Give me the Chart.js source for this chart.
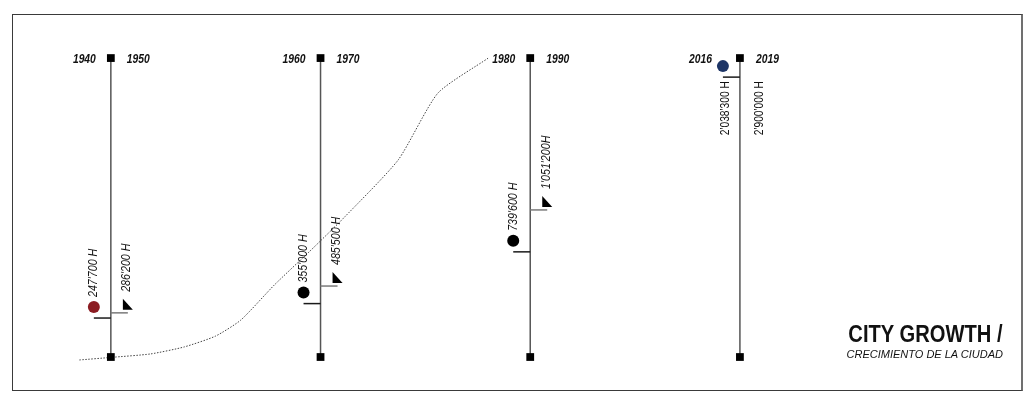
<!DOCTYPE html>
<html>
<head>
<meta charset="utf-8">
<title>City growth</title>
<script src="https://cdn.jsdelivr.net/npm/chart.js@4.4.1/dist/chart.umd.min.js"></script>
<style>
  body { margin: 0; background: #fff; }
  #wrap { position: relative; width: 1032px; height: 407px; }
  #wrap canvas { position: absolute; left: 0; top: 0; }
  .frame {
    position: absolute; left: 12px; top: 14px; width: 1011px; height: 377px;
    box-sizing: border-box; border: 1.5px solid #3a3a3a; border-right: 2px solid #707070;
  }
  .title {
    position: absolute; right: 29px; top: 322px; text-align: right;
    font-family: "Liberation Sans", Arial, sans-serif; color: #111;
  }
  .title .main {
    font-weight: bold; font-size: 24px; line-height: 24px; white-space: nowrap;
    transform: scaleX(0.84); transform-origin: right center;
  }
  .title .sub { font-style: italic; font-size: 11px; line-height: 13px; margin-top: 2px; white-space: nowrap; }
</style>
</head>
<body>
<div id="wrap">
  <div class="frame"></div>
  <canvas id="growthChart" width="1032" height="407"></canvas>
  <div class="title">
    <div class="main">CITY GROWTH /</div>
    <div class="sub">CRECIMIENTO DE LA CIUDAD</div>
  </div>
</div>
<script>
// one vertical timeline per pair of census years
const groupX = [0, 1, 2, 3];
const yearsBefore = ["1940", "1960", "1980", "2016"];
const yearsAfter = ["1950", "1970", "1990", "2019"];
const popBefore = [247700, 355000, 739600, 2038300];
const popAfter = [286200, 485500, 1051200, 2900000];
const labelsBefore = ["247'700 H", "355'000 H", "739'600 H", "2'038'300 H"];
const labelsAfter = ["286'200 H", "485'500 H", "1'051'200H", "2'900'000 H"];
const dotColors = ["#8b1c22", "#000000", "#000000", "#1d3566"];
const axisRange = [-42000, 2180000];

// dotted growth curve
const trendX = [-0.15, 0, 0.19, 0.35, 0.5, 0.62, 0.78, 0.95, 1.11, 1.37, 1.56, 1.8];
const trendY = [-64000, -45000, -19000, 33000, 114000, 233000, 494000, 746000, 991000, 1422000, 1920000, 2180000];

const FONT = '"Liberation Sans", Arial, sans-serif';
const SQUISH = 0.82; // narrow lettering

const axisDatasets = groupX.map((gx) => ({
  data: [{ x: gx, y: axisRange[0] }, { x: gx, y: axisRange[1] }],
  borderColor: "#555",
  borderWidth: 1.5,
  pointStyle: "rect",
  pointRadius: 5.5,
  pointBackgroundColor: "#000",
  pointBorderWidth: 0,
}));

const trendDataset = {
  data: trendX.map((x, i) => ({ x: x, y: trendY[i] })),
  borderColor: "#444",
  borderWidth: 1,
  borderDash: [1.5, 1.5],
  pointRadius: 0,
  tension: 0.2,
};

function drawNarrow(ctx, text, x, y, align, vertical, squish) {
  ctx.save();
  ctx.translate(x, y);
  if (vertical) ctx.rotate(-Math.PI / 2);
  ctx.scale(squish, 1);
  ctx.textAlign = align;
  ctx.textBaseline = "middle";
  ctx.fillText(text, 0, 0);
  ctx.restore();
}

// ticks, dots, flags and labels placed from the scales
const markerPlugin = {
  id: "markers",
  afterDatasetsDraw(chart) {
    const ctx = chart.ctx;
    const xs = chart.scales.x;
    const ys = chart.scales.y;
    const topPx = ys.getPixelForValue(axisRange[1]);

    groupX.forEach((gx, i) => {
      const lx = xs.getPixelForValue(gx);
      const yb = ys.getPixelForValue(popBefore[i]);
      const afterOnAxis = popAfter[i] <= axisRange[1];
      const ya = afterOnAxis ? ys.getPixelForValue(popAfter[i]) : yb;
      const hanging = yb - 22 - 50 < topPx;

      // year labels on both sides of the top square
      const dotY = yb - 11;
      const crowded = dotY - topPx < 16;
      ctx.fillStyle = "#111";
      ctx.font = "italic bold 12px " + FONT;
      drawNarrow(ctx, yearsBefore[i], lx - (crowded ? 28 : 15), topPx + 2, "right", false, 0.86);
      drawNarrow(ctx, yearsAfter[i], lx + 16, topPx + 2, "left", false, 0.86);

      // left tick + dot
      ctx.strokeStyle = "#1a1a1a";
      ctx.lineWidth = 1.5;
      ctx.beginPath();
      ctx.moveTo(lx - 17, yb);
      ctx.lineTo(lx, yb);
      ctx.stroke();
      ctx.fillStyle = dotColors[i];
      ctx.beginPath();
      ctx.arc(lx - 17, dotY, 6, 0, Math.PI * 2);
      ctx.fill();

      // right tick + flag
      if (afterOnAxis) {
        ctx.strokeStyle = "#7a7a7a";
        ctx.beginPath();
        ctx.moveTo(lx, ya);
        ctx.lineTo(lx + 17, ya);
        ctx.stroke();
        ctx.fillStyle = "#000";
        ctx.beginPath();
        ctx.moveTo(lx + 12, ya - 14);
        ctx.lineTo(lx + 12, ya - 3);
        ctx.lineTo(lx + 22, ya - 3);
        ctx.closePath();
        ctx.fill();
      }

      // value labels
      ctx.fillStyle = "#111";
      if (hanging) {
        ctx.font = "12.5px " + FONT;
        drawNarrow(ctx, labelsBefore[i], lx - 14, yb + 4, "right", true, SQUISH);
        drawNarrow(ctx, labelsAfter[i], lx + 20, yb + 4, "right", true, SQUISH);
      } else {
        ctx.font = "italic 13px " + FONT;
        drawNarrow(ctx, labelsBefore[i], lx - 17, yb - 21, "left", true, SQUISH);
        drawNarrow(ctx, labelsAfter[i], lx + 16, ya - 21, "left", true, SQUISH);
      }
    });
  },
};

new Chart(document.getElementById("growthChart"), {
  type: "line",
  data: { datasets: axisDatasets.concat([trendDataset]) },
  options: {
    responsive: false,
    animation: false,
    layout: { padding: { top: 15, bottom: 22, left: 6, right: 9 } },
    scales: {
      x: { type: "linear", min: -0.5, max: 4.35, display: false },
      y: { type: "linear", min: -250000, max: 2500000, display: false },
    },
    plugins: {
      legend: { display: false },
      tooltip: { enabled: false },
    },
  },
  plugins: [markerPlugin],
});
</script>
</body>
</html>
